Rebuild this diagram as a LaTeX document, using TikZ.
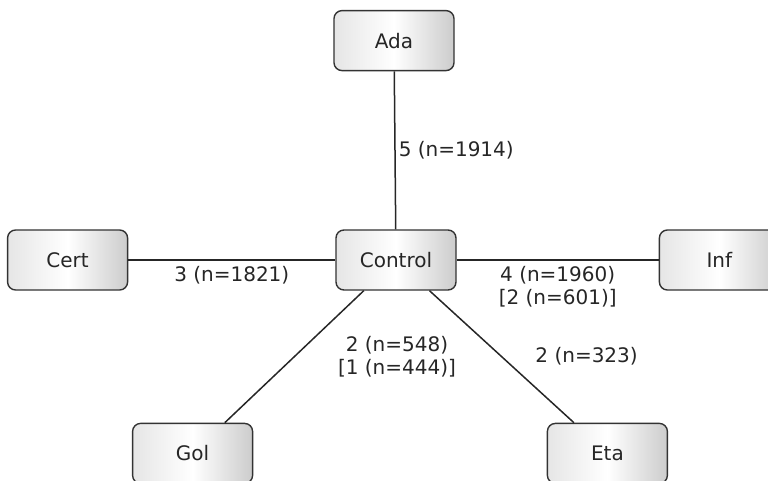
\documentclass[tikz,border=0pt]{standalone}
\usepackage{fontspec}
\setmainfont{DejaVu Sans}
\usetikzlibrary{positioning}

\begin{document}
\begin{tikzpicture}[
  x=1pt,y=1pt,
  font=\fontsize{20}{23}\selectfont, text=black!85,
  box/.style={draw=black!80,line width=1.4pt,rounded corners=8pt,
    minimum width=120pt,minimum height=60pt,inner sep=0pt,
    left color=black!10,right color=black!20,middle color=white},
  link/.style={draw=black!85,line width=1.5pt},
  lbl/.style={align=center,inner sep=3pt}]
\useasboundingbox (-396,-220) rectangle (372,260);
\node[box] (control) {Control};
\node[box,above=158pt of control,xshift=-2pt] (ada) {Ada};
\node[box,left=207pt of control] (cert) {Cert};
\node[box,right=202pt of control] (inf) {Inf};
\node[box,below left=132pt and 82pt of control] (gol) {Gol};
\node[box,below right=132pt and 90pt of control] (eta) {Eta};
\draw[link] (ada) -- node[lbl,right] {5 (n=1914)} (control);
\draw[link] (cert) -- node[lbl,below=3pt] {3 (n=1821)} (control);
\draw[link] (control) -- node[lbl,below=3pt] {4 (n=1960)\\{}[2 (n=601)]} (inf);
\draw[link] (control) -- node[lbl,anchor=west,xshift=40pt] {2 (n=548)\\{}[1 (n=444)]} (gol);
\draw[link] (control) -- node[lbl,anchor=west,xshift=30pt] {2 (n=323)} (eta);
\end{tikzpicture}
\end{document}
